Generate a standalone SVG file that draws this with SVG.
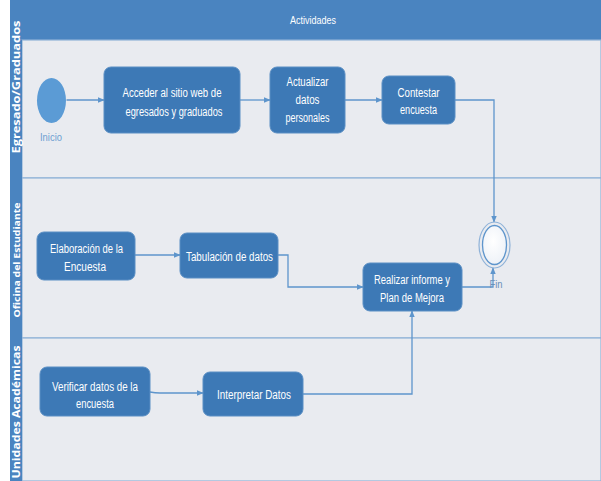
<svg xmlns="http://www.w3.org/2000/svg" width="601" height="481" viewBox="0 0 601 481">
<defs>
<style>
.lane{fill:#e9ebf0;stroke:#8fb2d8;stroke-width:1.2}
.hdr{fill:#4a84c0}
.node{fill:#3d79b6;stroke:#5b8fc4;stroke-width:1}
.nt{font-family:"Liberation Sans",Arial,sans-serif;font-size:12.5px;fill:#ffffff;text-anchor:middle}
.lt{font-family:"Open Sans","DejaVu Sans",sans-serif;font-size:11px;font-weight:bold;fill:#ffffff;text-anchor:middle}
.edge{fill:none;stroke:#5e95cc;stroke-width:1.3}
.lbl{font-family:"Liberation Sans",Arial,sans-serif;font-size:11px;fill:#6e9fd2;text-anchor:middle}
</style>
<marker id="arr" viewBox="0 0 10 10" refX="9" refY="5" markerWidth="7" markerHeight="7" orient="auto-start-reverse" markerUnits="userSpaceOnUse">
<path d="M0,1 L10,5 L0,9 z" fill="#5e95cc"/>
</marker>
<radialGradient id="wg" cx="0.45" cy="0.4" r="0.6">
<stop offset="0" stop-color="#ffffff"/>
<stop offset="1" stop-color="#eef2f8"/>
</radialGradient>
</defs>
<rect x="0" y="0" width="601" height="481" fill="#ffffff"/>
<g id="pool">
<rect class="hdr" x="10" y="0" width="591" height="40"/>
<text x="313" y="24" class="nt" style="font-size:11.5px" textLength="46" lengthAdjust="spacingAndGlyphs">Actividades</text>
<rect class="lane" x="22" y="40" width="579" height="138"/>
<rect class="lane" x="22" y="178" width="579" height="160"/>
<rect class="lane" x="22" y="338" width="579" height="143"/>
<rect class="hdr" x="10" y="40" width="12" height="441"/>
<text class="lt" transform="translate(20,87) rotate(-90)" textLength="133" lengthAdjust="spacingAndGlyphs">Egresado/Graduados</text>
<text class="lt" transform="translate(19.5,260) rotate(-90)" style="font-size:9.5px" textLength="115" lengthAdjust="spacingAndGlyphs">Oficina del Estudiante</text>
<text class="lt" transform="translate(20,412) rotate(-90)" textLength="133" lengthAdjust="spacingAndGlyphs">Unidades Académicas</text>
</g>
<g id="connectors">
<path class="edge" d="M66.5,100 L104,100" marker-end="url(#arr)"/>
<path class="edge" d="M240,100 L270,100" marker-end="url(#arr)"/>
<path class="edge" d="M345,100 L382,100" marker-end="url(#arr)"/>
<path class="edge" d="M455,100 L494,100 L494,222" marker-end="url(#arr)"/>
<path class="edge" d="M462,287 L493,287 L493,268" marker-end="url(#arr)"/>
<path class="edge" d="M135,255 L180,255" marker-end="url(#arr)"/>
<path class="edge" d="M278,255 L288,255 L288,287 L363,287" marker-end="url(#arr)"/>
<path class="edge" d="M150,392 Q155,393 160,393 L203,393" marker-end="url(#arr)"/>
<path class="edge" d="M303,394 L412,394 L412,311" marker-end="url(#arr)"/>
</g>
<g id="inicio">
<ellipse cx="51.5" cy="100.5" rx="14.5" ry="22.5" fill="#5b9bd5"/>
<text class="lbl" x="51" y="141" textLength="22" lengthAdjust="spacingAndGlyphs">Inicio</text>
</g>
<g id="acceder">
<rect class="node" x="104" y="67" width="136" height="66" rx="7"/>
<text class="nt" x="172" y="97" textLength="99" lengthAdjust="spacingAndGlyphs">Acceder al sitio web de</text>
<text class="nt" x="174" y="116" textLength="97" lengthAdjust="spacingAndGlyphs">egresados y graduados</text>
</g>
<g id="actualizar">
<rect class="node" x="270" y="67" width="75" height="66" rx="7"/>
<text class="nt" x="307.5" y="86" textLength="42" lengthAdjust="spacingAndGlyphs">Actualizar</text>
<text class="nt" x="307.5" y="104" textLength="24" lengthAdjust="spacingAndGlyphs">datos</text>
<text class="nt" x="307.5" y="122" textLength="44" lengthAdjust="spacingAndGlyphs">personales</text>
</g>
<g id="contestar">
<rect class="node" x="382" y="76" width="73" height="48" rx="7"/>
<text class="nt" x="418.5" y="97" textLength="42" lengthAdjust="spacingAndGlyphs">Contestar</text>
<text class="nt" x="418.5" y="114" textLength="37" lengthAdjust="spacingAndGlyphs">encuesta</text>
</g>
<g id="fin">
<ellipse cx="494.5" cy="245" rx="15.5" ry="23" fill="none" stroke="#8fb2d8" stroke-width="1.2"/>
<ellipse cx="494.5" cy="245" rx="12" ry="19.5" fill="url(#wg)" stroke="#5e95cc" stroke-width="1.3"/>
<text class="lbl" x="496" y="288" style="fill:#6a8fb8" textLength="13" lengthAdjust="spacingAndGlyphs">Fin</text>
</g>
<g id="elaboracion">
<rect class="node" x="37" y="232" width="98" height="48" rx="7"/>
<text class="nt" x="86.5" y="253" textLength="73" lengthAdjust="spacingAndGlyphs">Elaboración de la</text>
<text class="nt" x="85" y="271" textLength="42" lengthAdjust="spacingAndGlyphs">Encuesta</text>
</g>
<g id="tabulacion">
<rect class="node" x="180" y="233" width="98" height="45" rx="7"/>
<text class="nt" x="229.5" y="261" textLength="87" lengthAdjust="spacingAndGlyphs">Tabulación de datos</text>
</g>
<g id="realizar">
<rect class="node" x="363" y="263" width="99" height="48" rx="7"/>
<text class="nt" x="412" y="284" textLength="76" lengthAdjust="spacingAndGlyphs">Realizar informe y</text>
<text class="nt" x="412" y="302" textLength="64" lengthAdjust="spacingAndGlyphs">Plan de Mejora</text>
</g>
<g id="verificar">
<rect class="node" x="40" y="367" width="110" height="49" rx="7"/>
<text class="nt" x="95" y="391" textLength="86" lengthAdjust="spacingAndGlyphs">Verificar datos de la</text>
<text class="nt" x="95" y="408" textLength="38" lengthAdjust="spacingAndGlyphs">encuesta</text>
</g>
<g id="interpretar">
<rect class="node" x="203" y="372" width="100" height="44" rx="7"/>
<text class="nt" x="254" y="399" textLength="74" lengthAdjust="spacingAndGlyphs">Interpretar Datos</text>
</g>
</svg>
